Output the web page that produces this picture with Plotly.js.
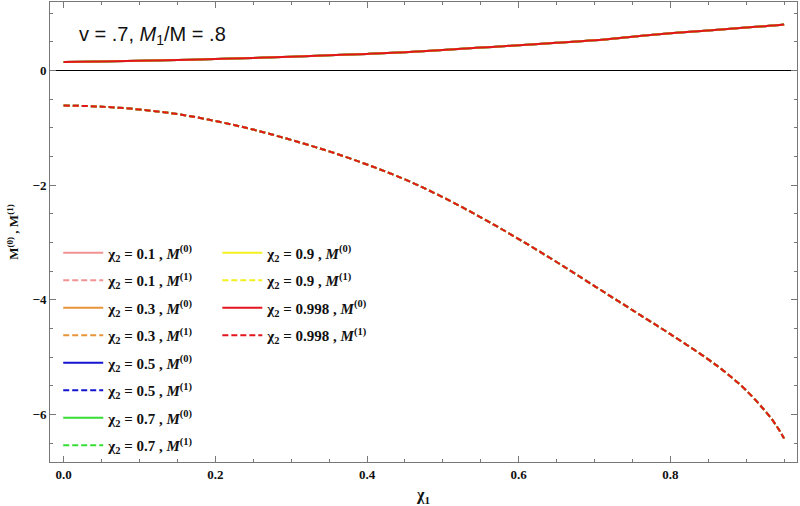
<!DOCTYPE html>
<html>
<head>
<meta charset="utf-8">
<script src="https://cdn.plot.ly/plotly-3.0.1.min.js"></script>
<style>
  body { margin: 0; background: white; }
  #chart { width: 800px; height: 506px; }
</style>
</head>
<body>
<div id="chart"></div>
<script>
// chi_1 values along the curves
var chi1 = [0, 0.05, 0.1, 0.15, 0.2, 0.25, 0.3, 0.35, 0.4, 0.45, 0.5,
            0.55, 0.6, 0.65, 0.7, 0.75, 0.8, 0.85, 0.875, 0.9, 0.925, 0.94, 0.95];
// M^(0) (solid) - all chi_2 curves lie on top of each other
var m0 = [0.15, 0.16, 0.17, 0.185, 0.20, 0.22, 0.24, 0.265, 0.29, 0.32, 0.36,
          0.40, 0.44, 0.485, 0.53, 0.59, 0.65, 0.70, 0.725, 0.75, 0.775, 0.79, 0.805];
// M^(1) (dashed)
var m1 = [-0.61, -0.63, -0.68, -0.76, -0.88, -1.03, -1.21, -1.41, -1.64, -1.90, -2.21,
          -2.56, -2.94, -3.34, -3.76, -4.18, -4.60, -5.04, -5.29, -5.58, -5.94, -6.20, -6.42];

var chi2 = ["0.1", "0.3", "0.5", "0.7", "0.9", "0.998"];
var colors = ["#f29393", "#e8953a", "#1414d2", "#33e033", "#f2f020", "#e2141c"];
var xTicks = [0, 0.2, 0.4, 0.6, 0.8];
var yTicks = [0, -2, -4, -6];

var serif = "Liberation Serif, Times New Roman, serif";

var traces = [];
chi2.forEach(function (c, i) {
  var leg = i < 4 ? "legend" : "legend2";
  traces.push({
    x: chi1, y: m0, type: "scatter", mode: "lines",
    name: "χ<sub>2</sub> = " + c + " , <i>M</i><sup>(0)</sup>",
    legend: leg, legendgroup: "g" + i + "a",
    line: { color: colors[i], width: 2, shape: "spline", smoothing: 1 }
  });
  traces.push({
    x: chi1, y: m1, type: "scatter", mode: "lines",
    name: "χ<sub>2</sub> = " + c + " , <i>M</i><sup>(1)</sup>",
    legend: leg, legendgroup: "g" + i + "b",
    line: { color: colors[i], width: 2, dash: "6px,3px", shape: "spline", smoothing: 1 }
  });
});

var legFont = { family: serif, size: 15, color: "#111", weight: "bold" };

var layout = {
  width: 800, height: 506,
  margin: { l: 50, r: 3, t: 2, b: 44 },
  paper_bgcolor: "white", plot_bgcolor: "white",
  showlegend: true,
  xaxis: {
    range: [-0.018, 0.967],
    tickvals: xTicks, ticktext: xTicks.map(function (v) { return v.toFixed(1); }),
    ticks: "inside", ticklen: 6, tickcolor: "#777",
    minor: { dtick: 0.05, ticks: "inside", ticklen: 3, tickcolor: "#777" },
    showline: true, linecolor: "#777", linewidth: 1, mirror: "ticks",
    showgrid: false, zeroline: false,
    tickfont: { family: serif, size: 13, color: "#111", weight: "bold" },
    title: { text: "χ<sub>1</sub>", font: { family: serif, size: 16, color: "#111", weight: "bold" }, standoff: 8 }
  },
  yaxis: {
    range: [-6.83, 1.196],
    tickvals: yTicks, ticktext: ["0", "−2", "−4", "−6"],
    ticks: "inside", ticklen: 6, tickcolor: "#777",
    minor: { dtick: 0.5, ticks: "inside", ticklen: 3, tickcolor: "#777" },
    showline: true, linecolor: "#777", linewidth: 1, mirror: "ticks",
    showgrid: false,
    zeroline: true, zerolinecolor: "#000", zerolinewidth: 1,
    tickfont: { family: serif, size: 13, color: "#111", weight: "bold" },
    title: { text: "M<sup>(0)</sup> , M<sup>(1)</sup>", font: { family: serif, size: 13, color: "#111", weight: "bold" }, standoff: 10 }
  },
  legend: {
    x: 0.011, y: 0.49, xanchor: "left", yanchor: "top",
    bgcolor: "rgba(0,0,0,0)", font: legFont, itemwidth: 40,
    traceorder: "grouped", tracegroupgap: 5
  },
  legend2: {
    x: 0.224, y: 0.49, xanchor: "left", yanchor: "top",
    bgcolor: "rgba(0,0,0,0)", font: legFont, itemwidth: 40,
    traceorder: "grouped", tracegroupgap: 5
  },
  annotations: [{
    xref: "paper", yref: "paper", x: 0.036, y: 0.927, xanchor: "left", yanchor: "middle",
    text: "v = .7, <i>M</i><sub>1</sub>/M = .8", showarrow: false,
    font: { family: "Liberation Sans, Arial, sans-serif", size: 20, color: "#111" }
  }]
};

Plotly.newPlot("chart", traces, layout, { displayModeBar: false, staticPlot: true });
</script>
</body>
</html>
